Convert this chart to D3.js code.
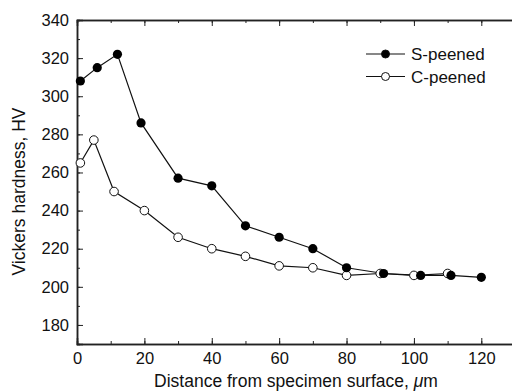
<!DOCTYPE html>
<html>
<head>
<meta charset="utf-8">
<script src="https://cdn.jsdelivr.net/npm/d3@7"></script>
<style>
  body { margin: 0; background: #fff; }
  text { font-family: "Liberation Sans", Arial, sans-serif; }
</style>
</head>
<body>
<svg id="chart"></svg>
<script>
// series data (distance in um, hardness HV)
var sX = [1, 6, 12, 19, 30, 40, 50, 60, 70, 80, 91, 102, 111, 120];
var sY = [308, 315, 322, 286, 257, 253, 232, 226, 220, 210, 207, 206, 206, 205];
var cX = [1, 5, 11, 20, 30, 40, 50, 60, 70, 80, 90, 100, 110];
var cY = [265, 277, 250, 240, 226, 220, 216, 211, 210, 206, 207, 206, 207];
var seriesNames = ["S-peened", "C-peened"];
var xTicks = [0, 20, 40, 60, 80, 100, 120];
var yTicks = [180, 200, 220, 240, 260, 280, 300, 320, 340];

var svgWidth = 512, svgHeight = 391;
var margin = { top: 20, right: -3, bottom: 47, left: 77 };
var width = svgWidth - margin.left - margin.right;
var height = svgHeight - margin.top - margin.bottom;

var svg = d3.select("#chart")
    .attr("width", svgWidth)
    .attr("height", svgHeight);

var g = svg.append("g")
    .attr("transform", "translate(" + margin.left + "," + margin.top + ")");

var x = d3.scaleLinear().domain([0, 130]).range([0, width]);
var y = d3.scaleLinear().domain([170, 340]).range([height, 0]);

var minorX = d3.range(0, 131, 10);
var minorY = d3.range(170, 341, 10);

// bottom axis, ticks inward
g.append("g")
    .attr("transform", "translate(0," + height + ")")
    .call(d3.axisBottom(x).tickValues(xTicks).tickSize(-6).tickPadding(8).tickFormat(d3.format("d")));
g.append("g")
    .attr("transform", "translate(0," + height + ")")
    .call(d3.axisBottom(x).tickValues(minorX).tickSize(-3).tickFormat(""));

// top axis
g.append("g")
    .call(d3.axisTop(x).tickValues(xTicks).tickSize(-6).tickFormat(""));
g.append("g")
    .call(d3.axisTop(x).tickValues(minorX).tickSize(-3).tickFormat(""));

// left axis
g.append("g")
    .call(d3.axisLeft(y).tickValues(yTicks).tickSize(-6).tickPadding(8));
g.append("g")
    .call(d3.axisLeft(y).tickValues(minorY).tickSize(-3).tickFormat(""));

g.selectAll(".domain")
    .attr("stroke", "#222")
    .attr("stroke-width", 1.5);
g.selectAll(".tick line").attr("stroke", "#222");
g.selectAll(".tick text")
    .attr("font-size", 16.5)
    .attr("fill", "#111")
    .style("font-family", "'Liberation Sans', Arial, sans-serif");

// axis titles
var xt = svg.append("text")
    .attr("x", margin.left + x(65))
    .attr("y", 387)
    .attr("text-anchor", "middle")
    .attr("font-size", 17.5)
    .attr("fill", "#111");
xt.append("tspan").text("Distance from specimen surface, ");
xt.append("tspan").attr("font-style", "italic").text("\u03bc");
xt.append("tspan").text("m");

svg.append("text")
    .attr("transform", "translate(25," + (margin.top + y(250)) + ") rotate(-90)")
    .attr("text-anchor", "middle")
    .attr("font-size", 17.5)
    .attr("fill", "#111")
    .text("Vickers hardness, HV");

var line = d3.line().x(d => x(d[0])).y(d => y(d[1]));

var sData = sX.map((v, i) => [v, sY[i]]);
var cData = cX.map((v, i) => [v, cY[i]]);

// C-peened first, S-peened drawn above
g.append("path")
    .datum(cData)
    .attr("d", line)
    .attr("fill", "none")
    .attr("stroke", "#111")
    .attr("stroke-width", 1.2);
g.append("path")
    .datum(sData)
    .attr("d", line)
    .attr("fill", "none")
    .attr("stroke", "#111")
    .attr("stroke-width", 1.2);

g.selectAll(".c-pt")
    .data(cData)
    .enter()
    .append("circle")
    .attr("class", "c-pt")
    .attr("cx", d => x(d[0]))
    .attr("cy", d => y(d[1]))
    .attr("r", 4.3)
    .attr("fill", "#fff")
    .attr("stroke", "#111")
    .attr("stroke-width", 1);

g.selectAll(".s-pt")
    .data(sData)
    .enter()
    .append("circle")
    .attr("class", "s-pt")
    .attr("cx", d => x(d[0]))
    .attr("cy", d => y(d[1]))
    .attr("r", 4.6)
    .attr("fill", "#000");

// legend
var legend = svg.append("g").attr("transform", "translate(366,54)");
seriesNames.forEach(function(name, i) {
    var row = legend.append("g").attr("transform", "translate(0," + (i * 22.5) + ")");
    row.append("line")
        .attr("x1", 0).attr("x2", 39)
        .attr("y1", 0).attr("y2", 0)
        .attr("stroke", "#111")
        .attr("stroke-width", 1.2);
    row.append("circle")
        .attr("cx", 19.5).attr("cy", 0)
        .attr("r", 4)
        .attr("fill", i === 0 ? "#000" : "#fff")
        .attr("stroke", "#111")
        .attr("stroke-width", 1);
    row.append("text")
        .attr("x", 45)
        .attr("y", 6)
        .attr("font-size", 17)
        .attr("fill", "#111")
        .text(name);
});
</script>
</body>
</html>
